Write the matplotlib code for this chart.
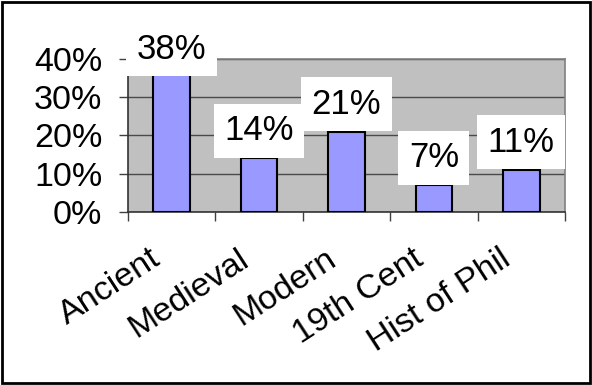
import numpy as np
import matplotlib
matplotlib.use("Agg")
import matplotlib.pyplot as plt
from matplotlib.ticker import PercentFormatter, FixedLocator
from matplotlib.transforms import ScaledTranslation
from matplotlib.patches import Rectangle

plt.rcParams['font.family'] = ['Liberation Sans', 'DejaVu Sans']

categories = ["Ancient", "Medieval", "Modern", "19th Cent", "Hist of Phil"]
shares = [0.38, 0.14, 0.21, 0.07, 0.11]
y_ticks = [0.0, 0.1, 0.2, 0.3, 0.4]

fig = plt.figure(figsize=(5.92, 3.85), dpi=100)
ax = fig.add_axes([0.2162, 0.4494, 0.7382, 0.3974])
ax.set_facecolor('#C0C0C0')

x = np.arange(len(categories))
ax.bar(x, shares, width=0.42, color='#9999FF', edgecolor='black', linewidth=1.5, zorder=3)

ax.set_ylim(0, 0.4)
ax.set_xlim(-0.5, len(categories) - 0.5)
ax.set_yticks(y_ticks)
ax.yaxis.set_major_formatter(PercentFormatter(1, decimals=0))
ax.grid(axis='y', color='#4a4a4a', linewidth=1.0, zorder=1)
ax.set_axisbelow(True)

# y ticks
ax.tick_params(axis='y', direction='out', length=6.5, width=1, color='#404040',
               labelsize=24.5, pad=12)
# x: boundary tick marks as minor, labels at centres
ax.set_xticks(x)
ax.xaxis.set_minor_locator(FixedLocator(np.arange(-0.5, len(categories), 1.0)))
ax.tick_params(axis='x', which='minor', direction='out', length=6.5, width=1, color='#404040')
ax.tick_params(axis='x', which='major', length=0, pad=37, labelsize=24.5)
ax.set_xticklabels(categories, rotation=33, ha='right', va='baseline', rotation_mode='anchor')
shift = ScaledTranslation(-9 / 100, 0, fig.dpi_scale_trans)
for lab in ax.get_xticklabels():
    lab.set_transform(lab.get_transform() + shift)

for s in ['left', 'bottom']:
    ax.spines[s].set_color('#333333')
    ax.spines[s].set_linewidth(1.2)
for s in ['top', 'right']:
    ax.spines[s].set_color('#808080')
    ax.spines[s].set_linewidth(1.2)

# data labels (kept inside the chart area like Excel does)
label_y = np.minimum(shares, 0.353)
for xi, yi, v in zip(x, label_y, shares):
    ax.annotate(f"{v:.0%}", (xi, yi), xytext=(0, 8), textcoords='offset points',
                ha='center', va='bottom', fontsize=25, zorder=5,
                bbox=dict(boxstyle='square,pad=0.3', fc='white', ec='none'))

# outer chart border
fig.patches.append(Rectangle((0.004, 0.006), 0.992, 0.988, transform=fig.transFigure,
                             fill=False, edgecolor='black', linewidth=2))

fig.savefig('out.png', dpi=100)
